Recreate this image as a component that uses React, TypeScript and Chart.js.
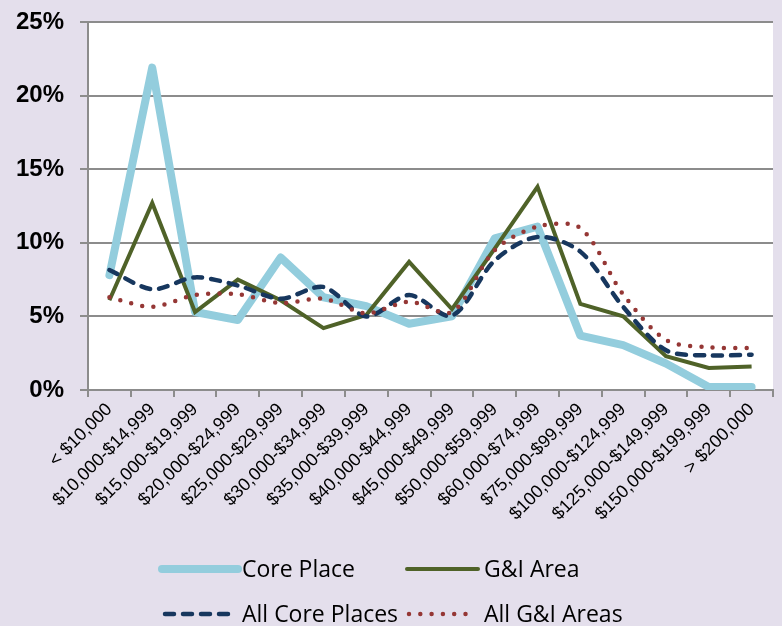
import React, { useEffect, useRef } from "react";
import { Chart, registerables } from "chart.js";

Chart.register(...registerables);

const categories = [
  "< $10,000",
  "$10,000-$14,999",
  "$15,000-$19,999",
  "$20,000-$24,999",
  "$25,000-$29,999",
  "$30,000-$34,999",
  "$35,000-$39,999",
  "$40,000-$44,999",
  "$45,000-$49,999",
  "$50,000-$59,999",
  "$60,000-$74,999",
  "$75,000-$99,999",
  "$100,000-$124,999",
  "$125,000-$149,999",
  "$150,000-$199,999",
  "> $200,000",
];

const corePlace = [7.8, 21.9, 5.3, 4.75, 9.0, 6.3, 5.7, 4.5, 5.0, 10.3, 11.1, 3.7, 3.05, 1.8, 0.2, 0.2];
const giArea = [6.1, 12.7, 5.3, 7.5, 6.1, 4.2, 5.1, 8.7, 5.5, 9.6, 13.8, 5.85, 5.0, 2.3, 1.5, 1.6];
const allCorePlaces = [8.15, 6.85, 7.65, 7.1, 6.2, 7.0, 5.0, 6.45, 5.05, 8.8, 10.4, 9.4, 5.65, 2.7, 2.35, 2.4];
const allGIAreas = [6.3, 5.65, 6.45, 6.5, 5.9, 6.2, 5.2, 6.0, 5.3, 9.5, 11.1, 11.0, 6.5, 3.4, 2.9, 2.85];

const seriesNames = ["Core Place", "G&I Area", "All Core Places", "All G&I Areas"];
const yMin = 0;
const yMax = 25;
const yStep = 5;

const BG = "#E4DFEC";
const GRID = "#8C8C8C";

const plotBgPlugin = {
  id: "plotBg",
  beforeDraw(chart: any) {
    const { ctx, chartArea } = chart;
    ctx.save();
    ctx.fillStyle = "#FFFFFF";
    ctx.fillRect(chartArea.left, chartArea.top, chartArea.right - chartArea.left, chartArea.bottom - chartArea.top);
    ctx.restore();
  },
};

const legendPlugin = {
  id: "customLegend",
  afterDraw(chart: any) {
    const { ctx } = chart;
    const ds = chart.data.datasets;
    const slots = [
      { x1: 162, x2: 238, tx: 242, y: 569 },
      { x1: 407, x2: 478, tx: 484, y: 569 },
      { x1: 165, x2: 229, tx: 242, y: 614 },
      { x1: 409, x2: 470, tx: 484, y: 614 },
    ];
    ds.forEach((d: any, i: number) => {
      const s = slots[i];
      ctx.save();
      ctx.strokeStyle = d.borderColor;
      ctx.lineWidth = d.borderWidth;
      ctx.lineCap = "round";
      ctx.setLineDash(d.borderDash || []);
      ctx.beginPath();
      ctx.moveTo(s.x1, s.y);
      ctx.lineTo(s.x2, s.y);
      ctx.stroke();
      ctx.setLineDash([]);
      ctx.fillStyle = "#000";
      ctx.font = "23px 'Open Sans'";
      ctx.textBaseline = "middle";
      ctx.textAlign = "left";
      ctx.fillText(d.label, s.tx, s.y + 1);
      ctx.restore();
    });
  },
};

export default function App() {
  const ref = useRef<HTMLCanvasElement | null>(null);

  useEffect(() => {
    const canvas = ref.current;
    if (!canvas) return;
    const chart = new Chart(canvas, {
      type: "line",
      data: {
        labels: categories,
        datasets: [
          {
            label: seriesNames[0],
            data: corePlace,
            borderColor: "#93CDDD",
            borderWidth: 8,
            borderJoinStyle: "round",
            borderCapStyle: "round",
            tension: 0,
            order: 4,
          },
          {
            label: seriesNames[1],
            data: giArea,
            borderColor: "#4F6228",
            borderWidth: 4,
            borderJoinStyle: "miter",
            tension: 0,
            order: 3,
          },
          {
            label: seriesNames[2],
            data: allCorePlaces,
            borderColor: "#17375E",
            borderWidth: 4.5,
            borderDash: [9, 9],
            borderCapStyle: "round",
            borderJoinStyle: "round",
            tension: 0.3,
            order: 2,
          },
          {
            label: seriesNames[3],
            data: allGIAreas,
            borderColor: "#953735",
            borderWidth: 4.5,
            borderDash: [0, 11.3],
            borderCapStyle: "round",
            borderJoinStyle: "round",
            tension: 0.3,
            order: 1,
          },
        ] as any,
      },
      options: {
        responsive: false,
        animation: false,
        layout: { padding: { top: 22, right: 9, bottom: 0, left: 0 } },
        elements: { point: { radius: 0, hoverRadius: 0 } },
        plugins: {
          legend: { display: false },
          tooltip: { enabled: false },
        },
        scales: {
          x: {
            type: "category",
            offset: true,
            afterFit: (s: any) => {
              s.height = 236;
              s.paddingLeft = 0;
              s.paddingRight = 0;
            },
            grid: {
              offset: true,
              drawOnChartArea: false,
              drawTicks: true,
              tickLength: 7,
              color: GRID,
              lineWidth: 2,
            },
            border: { color: GRID, width: 2 },
            ticks: {
              minRotation: 45,
              maxRotation: 45,
              autoSkip: false,
              color: "#000",
              padding: 2,
              font: { family: "Liberation Sans", size: 18 },
            },
          },
          y: {
            min: yMin,
            max: yMax,
            afterFit: (s: any) => {
              s.width = 88;
              s.paddingTop = 0;
              s.paddingBottom = 0;
            },
            ticks: {
              stepSize: yStep,
              color: "#000",
              padding: 16,
              font: { family: "Liberation Sans", size: 24, weight: "bold" },
              callback: (v: any) => v + "%",
            },
            grid: { color: GRID, lineWidth: 2, tickLength: 8 },
            border: { color: GRID, width: 2 },
          },
        },
      } as any,
      plugins: [plotBgPlugin, legendPlugin],
    });
    return () => chart.destroy();
  }, []);

  return (
    <div style={{ position: "fixed", left: 0, top: 0, width: 782, height: 626, background: BG }}>
      <canvas ref={ref} width={782} height={626} style={{ display: "block", width: 782, height: 626 }} />
    </div>
  );
}
